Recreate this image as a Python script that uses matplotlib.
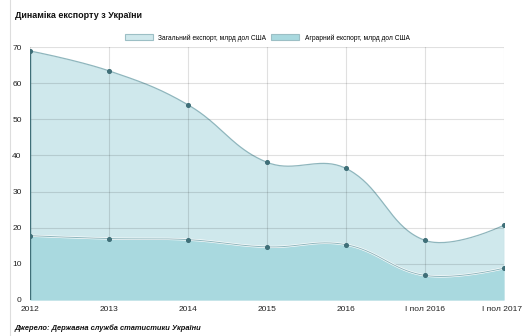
import matplotlib.pyplot as plt
import matplotlib.transforms as mtransforms
import numpy as np

years = ["2012", "2013", "2014", "2015", "2016", "I пол 2016", "I пол 2017"]
total_export = [68.9, 63.4, 54.0, 38.1, 36.4, 16.5, 20.7]
agro_export = [17.8, 17.0, 16.7, 14.7, 15.3, 6.8, 8.8]

TOTAL_FILL = "#cfe8ec"
AGRO_FILL = "#a9d9df"
LINE = "#8fb6bd"
POINT = "#3f6f78"


def smooth(xs, ys, sx=79.0, sy=3.614, tension=0.4, n=40):
    # chart.js-like bezier curve through the points (in pixel-ish space)
    px = np.asarray(xs, float) * sx
    py = np.asarray(ys, float) * sy
    m = len(px)
    cps = []
    for i in range(m):
        if i == 0 or i == m - 1:
            cps.append(((px[i], py[i]), (px[i], py[i])))
            continue
        d01 = np.hypot(px[i] - px[i - 1], py[i] - py[i - 1])
        d12 = np.hypot(px[i + 1] - px[i], py[i + 1] - py[i])
        fa = tension * d01 / (d01 + d12)
        fb = tension * d12 / (d01 + d12)
        dx, dy = px[i + 1] - px[i - 1], py[i + 1] - py[i - 1]
        cps.append(((px[i] - fa * dx, py[i] - fa * dy), (px[i] + fb * dx, py[i] + fb * dy)))
    out_x, out_y = [], []
    t = np.linspace(0, 1, n)
    for i in range(m - 1):
        p0 = np.array([px[i], py[i]])
        p1 = np.array(cps[i][1])
        p2 = np.array(cps[i + 1][0])
        p3 = np.array([px[i + 1], py[i + 1]])
        b = ((1 - t) ** 3)[:, None] * p0 + (3 * (1 - t) ** 2 * t)[:, None] * p1 \
            + (3 * (1 - t) * t ** 2)[:, None] * p2 + (t ** 3)[:, None] * p3
        out_x.extend(b[:, 0] / sx)
        out_y.extend(b[:, 1] / sy)
    return np.array(out_x), np.array(out_y)


plt.rcParams["font.family"] = ["Liberation Sans", "DejaVu Sans"]
fig = plt.figure(figsize=(5.22, 3.36), dpi=100)
ax = fig.add_axes([30 / 522, 1 - 300 / 336, 474 / 522, 253 / 336])

x = np.arange(len(years))
tx, ty = smooth(x, total_export)
ax_, ay = smooth(x, agro_export)

ax.fill_between(tx, 0, ty, color=TOTAL_FILL, zorder=1, lw=0)
ax.plot(tx, ty, color=LINE, lw=0.9, zorder=2)
ax.fill_between(ax_, 0, ay, color=AGRO_FILL, zorder=3, lw=0)
ax.plot(ax_, ay, color="white", lw=1.6, zorder=4)
ax.plot(ax_, ay, color=LINE, lw=0.7, zorder=4)
ax.scatter(x, total_export, s=7, color=POINT, zorder=5)
ax.scatter(x, agro_export, s=7, color=POINT, zorder=5)
ax.plot([0, 0], [0, total_export[0]], color=POINT, lw=1.0, zorder=5)

ax.set_xlim(0, len(years) - 1)
ax.set_ylim(0, 70)
ax.set_yticks(range(0, 71, 10))
ax.set_xticks(x)
ax.set_xticklabels(years)
ax.grid(True, color="#000000", alpha=0.12, lw=0.8, zorder=6)
ax.set_axisbelow(False)
for s in ax.spines.values():
    s.set_visible(False)
ax.tick_params(length=0, labelsize=6, colors="#222222")
ax.tick_params(axis="y", pad=6)
ax.tick_params(axis="x", pad=4)
last = ax.get_xticklabels()[-1]
last.set_transform(last.get_transform() + mtransforms.ScaledTranslation(-2 / 100, 0, fig.dpi_scale_trans))

fig.text(15 / 522, 1 - 16 / 336, "Динаміка експорту з України", fontsize=6.5,
         fontweight="bold", va="center", color="#111111")
fig.text(15 / 522, 1 - 328 / 336, "Джерело: Державна служба статистики України", fontsize=5.4,
         fontweight="bold", style="italic", va="center", color="#111111")
fig.add_artist(plt.Line2D([10 / 522, 10 / 522], [0, 1], color="#dddddd", lw=0.8))

handles = [plt.Rectangle((0, 0), 1, 1, facecolor=TOTAL_FILL, edgecolor="#9cbfc5", lw=0.8),
           plt.Rectangle((0, 0), 1, 1, facecolor=AGRO_FILL, edgecolor="#9cbfc5", lw=0.8)]
fig.legend(handles, ["Загальний експорт, млрд дол США", "Аграрний експорт, млрд дол США"],
           loc="center", bbox_to_anchor=(267 / 522, 1 - 38 / 336), ncol=2, frameon=False,
           fontsize=4.8, handlelength=4.2, handleheight=1.0, handletextpad=0.8, columnspacing=0.8)

fig.savefig("out.png", dpi=100)
